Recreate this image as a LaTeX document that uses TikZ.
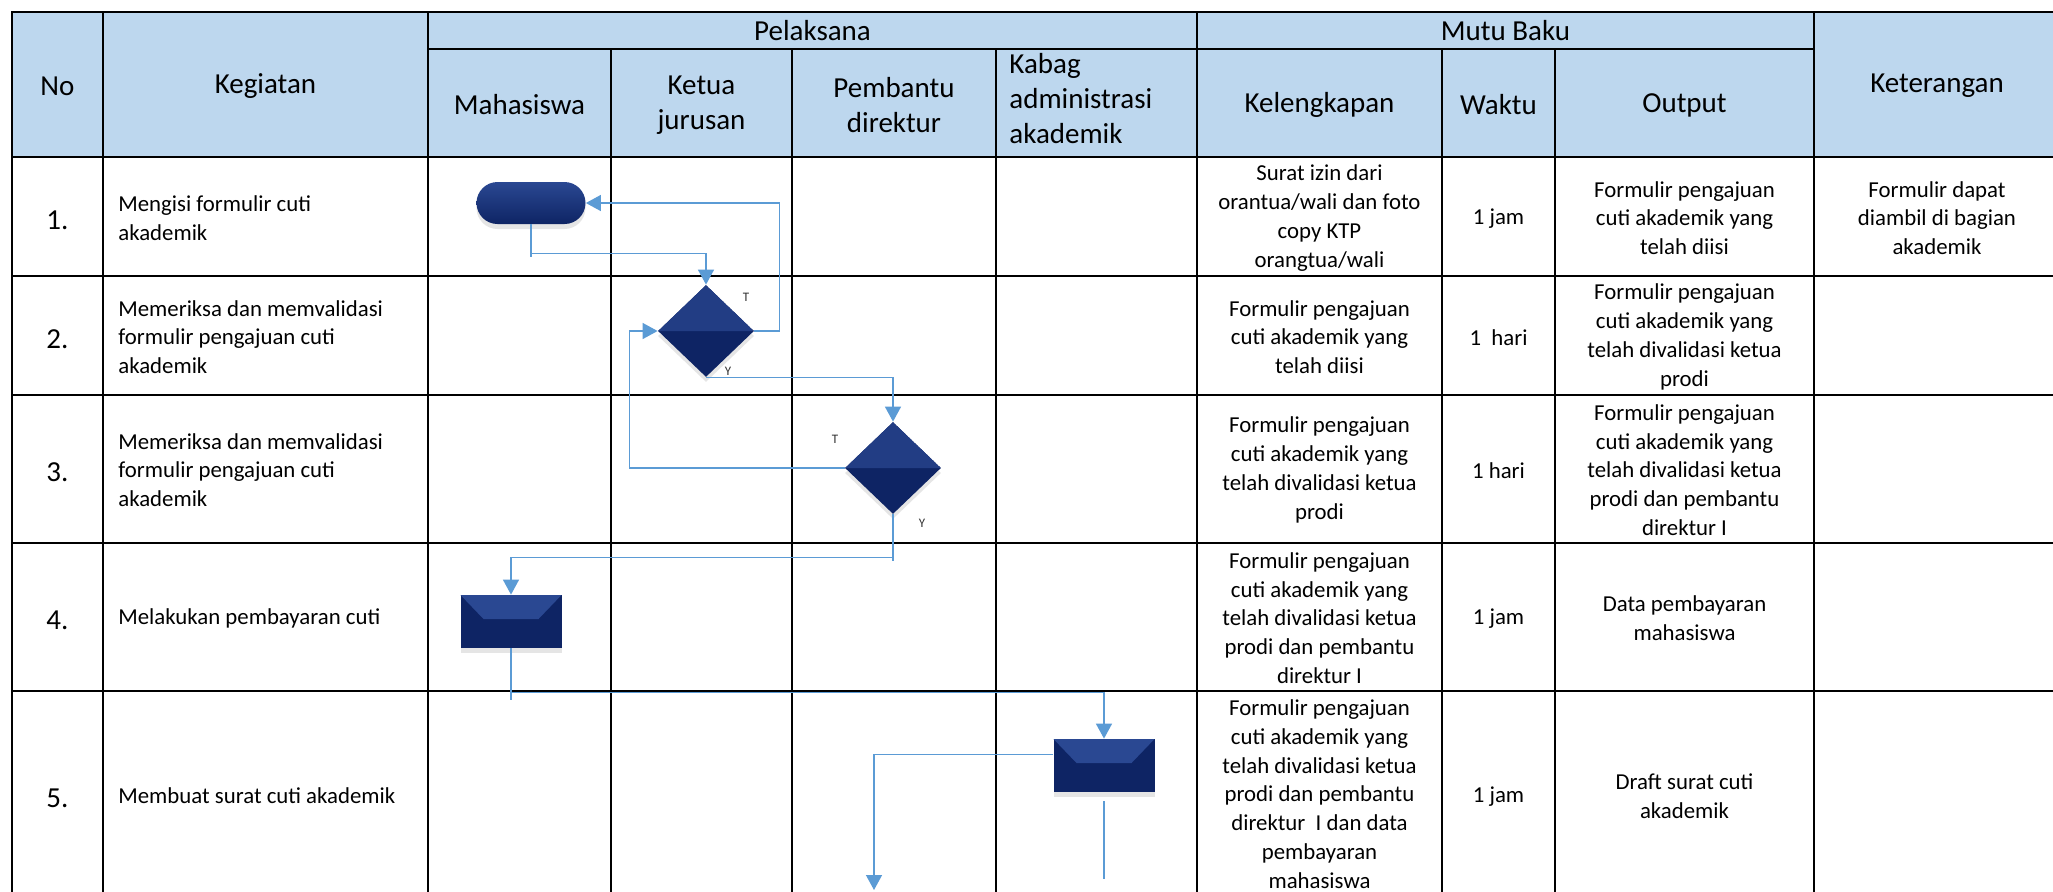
\documentclass[tikz,border=0pt]{standalone}
\usepackage{fontspec}
\setmainfont{Carlito}
\usetikzlibrary{arrows.meta,shapes.geometric,shadows}
\definecolor{headblue}{RGB}{189,215,238}
\definecolor{flowblue}{RGB}{91,155,213}
\definecolor{navy}{RGB}{14,36,100}
\definecolor{navyhi}{RGB}{42,72,146}
\tikzset{%
    >={Triangle[width=8pt,length=7.5pt]},
    tline/.style={line width=0.9pt,black,line cap=rect},
    hd/.style={font=\fontsize{14.5}{17.5}\selectfont,align=center,inner sep=0pt},
    txt/.style={font=\fontsize{11.4}{14.4}\selectfont,align=center,inner sep=0pt},
    act/.style={txt,align=left,anchor=west},
    yn/.style={font=\fontsize{6.5}{8}\selectfont,inner sep=0pt,black!80},
    link/.style={draw=flowblue,line width=0.7pt},
    flow/.style={link,->},
    soft/.style={drop shadow={shadow xshift=0pt,shadow yshift=-2.5pt,opacity=.2}},
    term/.style={rectangle,soft,rounded corners=10.5pt,minimum width=54.5pt,
        minimum height=21pt,inner sep=0pt,top color=navyhi,bottom color=navy},
    dia/.style={diamond,soft,fill=navy,minimum width=48pt,minimum height=46pt,inner sep=0pt,
        path picture={\fill[navyhi!70!navy] (path picture bounding box.west)
            -- (path picture bounding box.north) -- (path picture bounding box.east) -- cycle;}},
    proc/.style={rectangle,soft,fill=navy,minimum width=50.5pt,minimum height=26.5pt,inner sep=0pt,
        path picture={\fill[navyhi] (path picture bounding box.north west)
            -- (path picture bounding box.north east)
            -- ([shift={(-11.5pt,-12pt)}]path picture bounding box.north east)
            -- ([shift={(11.5pt,-12pt)}]path picture bounding box.north west) -- cycle;}}
}

\begin{document}
\begin{tikzpicture}[x=0.5pt,y=-0.5pt]
    \useasboundingbox (0,0) rectangle (2053,891);
    \clip (0,0) rectangle (2053,891);
    \fill[white] (0,0) rectangle (2053,891);
    %%%%% table
    \fill[headblue] (12,12) rectangle (2060,157);
    \draw[tline] (12,12) -- (2060,12) (428,49) -- (1814,49)
        (12,157) -- (2060,157) (12,276) -- (2060,276) (12,395) -- (2060,395)
        (12,543) -- (2060,543) (12,691) -- (2060,691);
    \draw[tline] (12,12) -- (12,899) (103,12) -- (103,899) (428,12) -- (428,899)
        (1197,12) -- (1197,899) (1814,12) -- (1814,899) (2060,12) -- (2060,899);
    \draw[tline] (611,49) -- (611,899) (792,49) -- (792,899) (996,49) -- (996,899)
        (1442,49) -- (1442,899) (1555,49) -- (1555,899);
    %%%%% header
    \node[hd] (hNo) at (57.5,86) {No};
    \node[hd] (hKeg) at (265.5,86) {Kegiatan};
    \node[hd] (hPel) at (812.5,31) {Pelaksana};
    \node[hd] (hMhs) at (519.5,105) {Mahasiswa};
    \node[hd] (hKtj) at (701.5,105) {Ketua\\jurusan};
    \node[hd] (hPem) at (894,105) {Pembantu\\direktur};
    \node[hd,align=left,anchor=west] (hKab) at (1009,99) {Kabag\\administrasi\\akademik};
    \node[hd] (hMutu) at (1505.5,31) {Mutu Baku};
    \node[hd] (hKel) at (1319.5,105) {Kelengkapan};
    \node[hd] (hWkt) at (1498.5,105) {Waktu};
    \node[hd] (hOut) at (1684.5,105) {Output};
    \node[hd] (hKtr) at (1937,86) {Keterangan};
    %%%%% rows
    \node[hd] (n1) at (57.5,220) {1.};
    \node[hd] (n2) at (57.5,339) {2.};
    \node[hd] (n3) at (57.5,472) {3.};
    \node[hd] (n4) at (57.5,620) {4.};
    \node[hd] (n5) at (57.5,798) {5.};
    \node[act] (a1) at (118,218) {Mengisi formulir cuti\\akademik};
    \node[act] (a2) at (118,337) {Memeriksa dan memvalidasi\\formulir pengajuan cuti\\akademik};
    \node[act] (a3) at (118,470) {Memeriksa dan memvalidasi\\formulir pengajuan cuti\\akademik};
    \node[act] (a4) at (118,618) {Melakukan pembayaran cuti};
    \node[act] (a5) at (118,796) {Membuat surat cuti akademik};
    \node[txt] (k1) at (1319.5,218) {Surat izin dari\\orantua/wali dan foto\\copy KTP\\orangtua/wali};
    \node[txt] (k2) at (1319.5,337) {Formulir pengajuan\\cuti akademik yang\\telah diisi};
    \node[txt] (k3) at (1319.5,470) {Formulir pengajuan\\cuti akademik yang\\telah divalidasi ketua\\prodi};
    \node[txt] (k4) at (1319.5,618) {Formulir pengajuan\\cuti akademik yang\\telah divalidasi ketua\\prodi dan pembantu\\direktur I};
    \node[txt] (k5) at (1319.5,794) {Formulir pengajuan\\cuti akademik yang\\telah divalidasi ketua\\prodi dan pembantu\\direktur\ \ I dan data\\pembayaran\\mahasiswa};
    \node[txt] (w1) at (1498.5,219) {1 jam};
    \node[txt] (w2) at (1498.5,338) {1\ \ hari};
    \node[txt] (w3) at (1498.5,471) {1 hari};
    \node[txt] (w4) at (1498.5,619) {1 jam};
    \node[txt] (w5) at (1498.5,797) {1 jam};
    \node[txt] (o1) at (1684.5,218) {Formulir pengajuan\\cuti akademik yang\\telah diisi};
    \node[txt] (o2) at (1684.5,337) {Formulir pengajuan\\cuti akademik yang\\telah divalidasi ketua\\prodi};
    \node[txt] (o3) at (1684.5,470) {Formulir pengajuan\\cuti akademik yang\\telah divalidasi ketua\\prodi dan pembantu\\direktur I};
    \node[txt] (o4) at (1684.5,618) {Data pembayaran\\mahasiswa};
    \node[txt] (o5) at (1684.5,796) {Draft surat cuti\\akademik};
    \node[txt] (r1) at (1937,218) {Formulir dapat\\diambil di bagian\\akademik};
    %%%%% flow
    \node[term] (start) at (531,203) {};
    \node[dia] (cek1) at (706,331) {};
    \node[dia] (cek2) at (893,468) {};
    \node[proc] (bayar) at (511,621.5) {};
    \node[proc] (surat) at (1104,765.5) {};
    \node[yn] (t1) at (746,297) {T};
    \node[yn] (y1) at (728,371) {Y};
    \node[yn] (t2) at (835,439) {T};
    \node[yn] (y2) at (922,523) {Y};
    \coordinate (j4) at ([yshift=-22pt]bayar.south);
    \coordinate (end5) at (874,890);
    \coordinate (cut5) at (1104,879);
    \draw[link] (start.south) -- ++(0,33);
    \draw[flow] (start.south) -- ++(0,29) -| (cek1.north);
    \draw[flow] (cek1.east) -- ++(25,0) |- (start.east);
    \draw[flow] (cek1.south) -| (cek2.north);
    \draw[flow] (cek2.west) -- ++(-215,0) |- (cek1.west);
    \draw[link] (cek2.south) -- ++(0,47);
    \draw[flow] (cek2.south) -- ++(0,43) -| (bayar.north);
    \draw[link] (bayar.south) -- ++(0,52);
    \draw[flow] (j4) -| (surat.north);
    \draw[flow] ([yshift=5.5pt]surat.west) -| (end5);
    \draw[link] ([yshift=-4.5pt]surat.south) -- (cut5);
\end{tikzpicture}
\end{document}
